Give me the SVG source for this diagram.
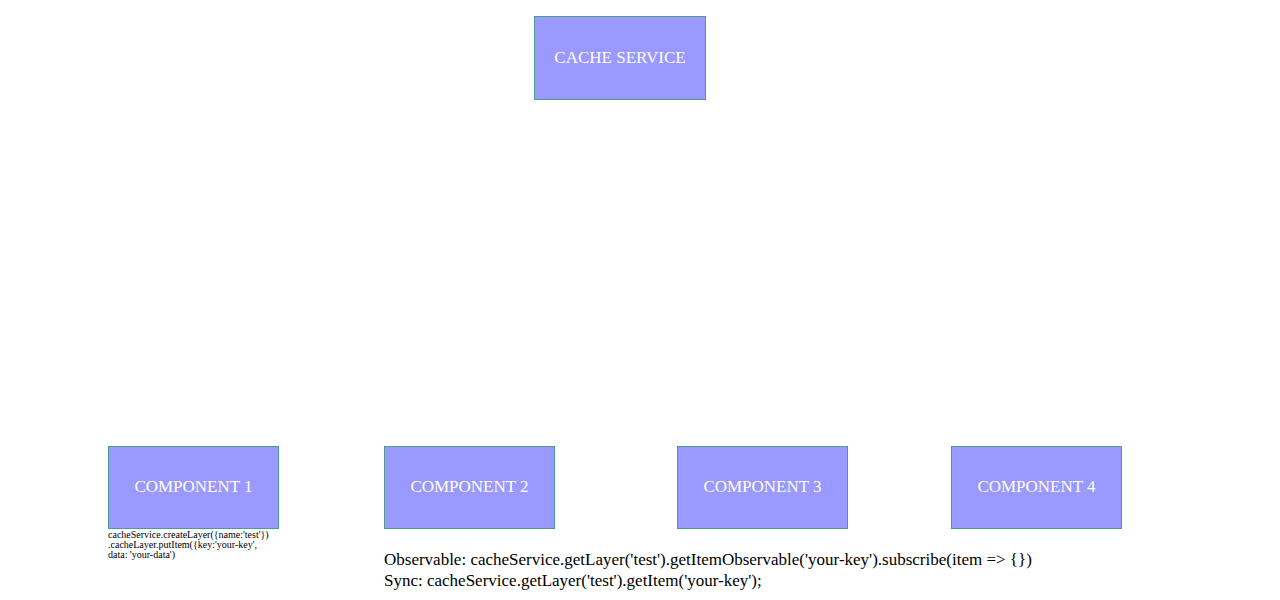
<svg xmlns="http://www.w3.org/2000/svg" width="1280" height="600" viewBox="0 0 1280 600">
<style>
.box{fill:#9999ff;stroke:#4f9a8f;stroke-width:1}
.lbl{font-family:"Liberation Serif",serif;font-size:17px;fill:#ffffff;text-anchor:middle}
.note{font-family:"Liberation Serif",serif;font-size:10px;fill:#000}
.code{font-family:"Liberation Serif",serif;font-size:17px;fill:#000}
</style>
<rect width="1280" height="600" fill="#ffffff"/>
<g id="connectors"></g>
<g id="cache-service">
<rect class="box" x="534.5" y="16.5" width="171" height="83"/>
<text class="lbl" x="620" y="63">CACHE SERVICE</text>
</g>
<g id="component-1">
<rect class="box" x="108.5" y="446.5" width="170" height="82"/>
<text class="lbl" x="193.5" y="492">COMPONENT 1</text>
</g>
<g id="component-2">
<rect class="box" x="384.5" y="446.5" width="170" height="82"/>
<text class="lbl" x="469.5" y="492">COMPONENT 2</text>
</g>
<g id="component-3">
<rect class="box" x="677.5" y="446.5" width="170" height="82"/>
<text class="lbl" x="762.5" y="492">COMPONENT 3</text>
</g>
<g id="component-4">
<rect class="box" x="951.5" y="446.5" width="170" height="82"/>
<text class="lbl" x="1036.5" y="492">COMPONENT 4</text>
</g>
<g id="note-1">
<text class="note" x="108" y="538">cacheService.createLayer({name:'test'})</text>
<text class="note" x="108" y="548">.cacheLayer.putItem({key:'your-key',</text>
<text class="note" x="108" y="558">data: 'your-data')</text>
</g>
<g id="note-2">
<text class="code" x="384" y="565">Observable: cacheService.getLayer('test').getItemObservable('your-key').subscribe(item =&gt; {})</text>
<text class="code" x="384" y="586">Sync: cacheService.getLayer('test').getItem('your-key');</text>
</g>
</svg>
